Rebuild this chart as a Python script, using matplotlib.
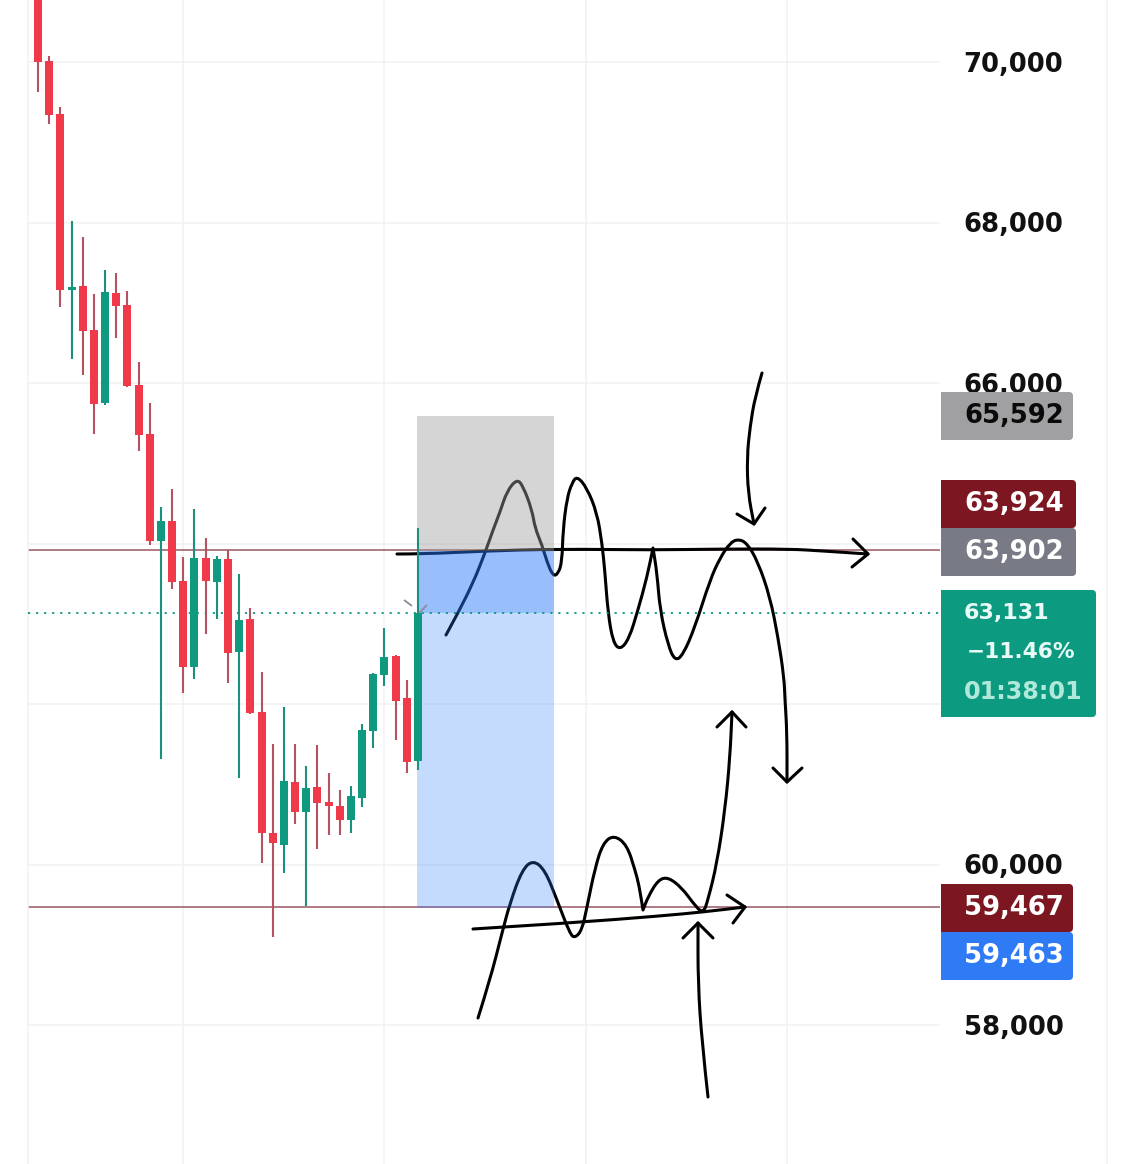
import matplotlib
matplotlib.use("Agg")
import matplotlib.pyplot as plt
from matplotlib.patches import Rectangle, FancyBboxPatch, PathPatch
from matplotlib.path import Path
from matplotlib.transforms import Affine2D

W, H = 1135, 1164

opens = [70900,70013,69352,67159,67209,66661,65751,67122,66972,65975,65365,64032,64281,63533,62461,63820,63521,63807,62648,63060,
         61901,60393,60243,61028,60654,60966,60779,60729,60555,60829,61664,62362,62599,62075,61290]
highs = [70900,70075,69440,68019,67820,67109,67408,67371,67147,66262,65751,64455,64680,63832,64430,64069,63845,63919,63620,63197,
         62399,61502,61963,61502,61228,61490,61141,60929,60979,61751,62387,62947,62611,62299,64194]
lows = [69627,69228,66947,66299,66100,65365,65730,66561,65950,65153,63982,61315,63433,62137,62312,62873,63060,62262,61078,61870,
        60019,59097,59895,60505,59483,60194,60368,60368,60393,60717,61452,62225,61552,61141,61178]
closes = [70000,69340,67159,67197,66648,65739,67134,66960,65963,65352,64032,64281,63521,62461,63820,63533,63807,62636,63047,61888,
          60393,60268,61041,60654,60954,60767,60729,60555,60854,61676,62374,62586,62038,61278,63131]

y_ticks = [58000, 60000, 62000, 64000, 66000, 68000, 70000]
y_labels = ["58,000", "60,000", "", "", "66,000", "68,000", "70,000"]  # 62,000 and 64,000 are covered by the tags
x_ticks = [13, 31, 49, 67]

last_price = 63131
stop_top = 65592
entry = 63902
target = 59463
level_high = 63924
level_low = 59467

tags = [("65,592", 392, 440, 1073, "#a0a0a2", "#0a0a0a"),
        ("63,924", 480, 528, 1076, "#7c1620", "#ffffff"),
        ("63,902", 528, 576, 1076, "#787b86", "#ffffff"),
        ("59,467", 884, 932, 1073, "#7c1620", "#ffffff"),
        ("59,463", 932, 980, 1073, "#2f7bf5", "#ffffff")]

# hand-drawn strokes, in picture pixels (x, y)
wave_top = [(446,635),(458,613),(473,583),(485,553),(493,530),(500,512),(507,491),(517,479),(523,486),(532,510),(535,528),
            (542,545),(547,562),(553,576),(558,574),(562,562),(563,530),(567,498),(572,483),(577,476),(587,488),(597,513),
            (602,543),(605,573),(608,613),(613,642),(620,650),(629,639),(638,610),(647,577),(653,548),(653,548),(657,573),
            (660,610),(668,645),(675,661),(683,655),(695,627),(710,580),(720,558),(730,543),(738,539),(747,543),(758,562),
            (770,597),(778,637),(784,677),(785,700),(787,733),(787,782)]
head_down = [(773,768),(787,782),(787,782),(802,768)]
arrow_top = [(762,373),(755,397),(750,427),(747,457),(748,493),(754,524)]
head_top = [(737,514),(754,524),(754,524),(765,508)]
line_top = [(397,554),(423,554),(485,551),(557,549),(653,550),(723,549),(790,549),(823,551),(868,554)]
head_right = [(853,539),(868,554),(868,554),(852,567)]
wave_low = [(478,1018),(490,980),(502,933),(510,903),(522,870),(533,860),(545,870),(557,900),(570,934),(575,938),(582,930),
            (587,907),(595,868),(603,843),(614,835),(627,845),(635,870),(639,885),(643,910),(643,910),(648,897),(658,880),
            (668,877),(682,888),(693,903),(703,914),(708,900),(717,863),(725,810),(730,757),(732,712)]
head_up = [(717,727),(732,712),(732,712),(746,727)]
line_low = [(473,929),(570,923),(660,916),(703,912),(745,907)]
head_low = [(727,895),(745,907),(745,907),(733,923)]
arrow_low = [(708,1097),(702,1043),(698,983),(698,923)]
head_low2 = [(683,938),(698,923),(698,923),(713,938)]
strokes = [wave_top, head_down, arrow_top, head_top, line_top, head_right, wave_low, head_up, line_low, head_low, arrow_low, head_low2]
tick_marks = [[(404,600),(412,606)], [(427,605),(419,613)]]


def smooth(points):
    verts = [points[0]]
    codes = [Path.MOVETO]
    for a, b in zip(points[1:-1], points[2:]):
        verts += [a, ((a[0] + b[0]) / 2, (a[1] + b[1]) / 2)]
        codes += [Path.CURVE3, Path.CURVE3]
    verts.append(points[-1])
    codes.append(Path.LINETO)
    return Path(verts, codes)


FONT = dict(fontfamily="DejaVu Sans", fontweight="bold", fontsize=18.6)

fig = plt.figure(figsize=(W / 100, H / 100), dpi=100, facecolor="white")
ax = fig.add_axes([28 / W, 0, (940 - 28) / W, 1])
pitch = (418 - 38) / 34
ax.set_xlim((28 - 38) / pitch, (940 - 38) / pitch)
per_px = 2000 / 160.5
ax.set_ylim(70000 - (H - 62) * per_px, 70000 + 62 * per_px)

ax.set_yticks(y_ticks)
ax.set_yticklabels(y_labels, color="#111111", **FONT)
ax.set_xticks(x_ticks)
ax.set_xticklabels([])
ax.yaxis.tick_right()
ax.tick_params(axis="y", length=0, pad=17)
ax.tick_params(axis="x", length=0)
ax.grid(True, color="#f1f1f3", lw=1.1)
ax.set_axisbelow(True)
for name in ("top", "right", "bottom"):
    ax.spines[name].set_visible(False)
ax.spines["left"].set_color("#f1f1f3")
ax.spines["left"].set_linewidth(1.1)

# screen-space transform for the hand-drawn strokes
px = Affine2D().scale(1, -1).translate(0, H)

ax.axhline(level_high, color="#a2636e", lw=1.2, zorder=1.5)
ax.axhline(level_low, color="#a2636e", lw=1.2, zorder=1.5)

# strokes sit beneath the translucent position boxes
for s in strokes:
    ax.add_patch(PathPatch(smooth(s), transform=px, fc="none", ec="black", lw=2.2, capstyle="round", joinstyle="round", zorder=2))

box_l = (417 - 38) / pitch
box_w = (553.5 - 417) / pitch
ax.add_patch(Rectangle((box_l, entry), box_w, stop_top - entry, fc=(158/255, 158/255, 158/255, 0.43), ec="none", zorder=3))
ax.add_patch(Rectangle((box_l, last_price), box_w, entry - last_price, fc=(37/255, 118/255, 249/255, 0.47), ec="none", zorder=3))
ax.add_patch(Rectangle((box_l, target), box_w, last_price - target, fc=(50/255, 128/255, 253/255, 0.28), ec="none", zorder=3))

ax.axhline(last_price, color="#089981", lw=1.3, linestyle=(0, (1.2, 3.25)), zorder=3.5)

for i, (o, h, l, c) in enumerate(zip(opens, highs, lows, closes)):
    up = c >= o
    body = "#0f9a80" if up else "#f03a4a"
    wick = "#1a9180" if up else "#b5525f"
    ax.vlines(i, l, h, color=wick, lw=1.5, zorder=4)
    ax.add_patch(Rectangle((i - 4 / pitch, min(o, c)), 8 / pitch, abs(c - o), fc=body, ec="none", zorder=5))

for m in tick_marks:
    ax.add_patch(PathPatch(smooth(m), transform=px, fc="none", ec="#8a8d96", lw=1.3, zorder=6))

# price tags in an overlay in pixel coordinates
ov = fig.add_axes([0, 0, 1, 1], zorder=5)
ov.set_xlim(0, W)
ov.set_ylim(H, 0)
ov.axis("off")
ov.patch.set_alpha(0)
ov.axvline(1107, color="#f1f1f3", lw=1.1)


def tag(y0, y1, right, color):
    ov.add_patch(FancyBboxPatch((944, y0 + 3), right - 947, y1 - y0 - 6, boxstyle="round,pad=3,rounding_size=4", fc=color, ec="none"))
    ov.add_patch(Rectangle((941, y0), 8, y1 - y0, fc=color, ec="none"))


lab = dict(va="center", ha="left", **FONT)
for text, y0, y1, right, color, tc in tags:
    tag(y0, y1, right, color)
    ov.text(964, (y0 + y1) / 2, text, color=tc, **lab)

tag(590, 717, 1096, "#0c9a80")
small = dict(va="center", ha="left", fontfamily="DejaVu Sans", fontweight="bold")
ov.text(964, 613, f"{last_price:,}", color="#e8faf5", fontsize=16, **small)
ov.text(967, 652, "\u221211.46%", color="#e8faf5", fontsize=15.6, **small)
ov.text(964, 692, "01:38:01", color="#b0e8da", fontsize=17.2, **small)

fig.savefig("out.png", dpi=100)
